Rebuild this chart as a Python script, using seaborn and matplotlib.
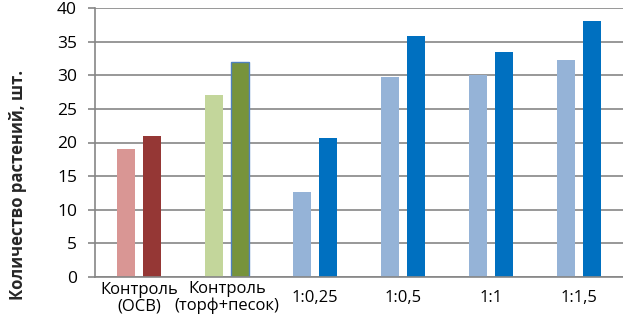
import pandas as pd
import seaborn as sns
import matplotlib.pyplot as plt

# Data
categories = ["Контроль\n(ОСВ)", "Контроль\n(торф+песок)", "1:0,25", "1:0,5", "1:1", "1:1,5"]
series_1 = [19, 27, 12.6, 29.7, 30, 32.3]
series_2 = [21, 32, 20.7, 35.8, 33.4, 38.1]

light_colors = ["#D99694", "#C3D69B", "#95B3D7", "#95B3D7", "#95B3D7", "#95B3D7"]
dark_colors = ["#953735", "#77933C", "#0070C0", "#0070C0", "#0070C0", "#0070C0"]

df = pd.DataFrame({
    "category": categories * 2,
    "value": series_1 + series_2,
    "series": ["1"] * len(categories) + ["2"] * len(categories),
})

sns.set_style("white")
plt.rcParams["font.family"] = ["Open Sans", "DejaVu Sans"]

fig = plt.figure(figsize=(6.23, 3.16), dpi=100)
ax = fig.add_axes([95 / 623, 39 / 316, 1 - 95 / 623, 269 / 316])

sns.barplot(data=df, x="category", y="value", hue="series", order=categories,
            width=0.58, gap=0.31, legend=False, ax=ax, linewidth=0)

# recolour each bar by its group
for bar, c in zip(ax.containers[0], light_colors):
    bar.set_facecolor(c)
for bar, c in zip(ax.containers[1], dark_colors):
    bar.set_facecolor(c)
ax.containers[1][1].set_edgecolor("#4F81BD")
ax.containers[1][1].set_linewidth(1.0)

ax.set_ylim(0, 40)
ax.set_xlim(-0.5, len(categories) - 0.5)
ax.set_yticks(range(0, 41, 5))
ax.yaxis.grid(True, color="#868686", linewidth=1.2)
ax.set_axisbelow(True)

for side in ["top", "right"]:
    ax.spines[side].set_visible(False)
ax.spines["left"].set_color("#868686")
ax.spines["bottom"].set_color("#868686")
ax.spines["left"].set_linewidth(1.2)
ax.spines["bottom"].set_linewidth(1.2)

ax.tick_params(axis="y", left=True, length=5, width=1.2, color="#868686",
               pad=8, labelsize=12.5, labelcolor="black")
ax.tick_params(axis="x", bottom=False, pad=11.5, labelsize=12, labelcolor="black")
for lbl in ax.get_xticklabels():
    lbl.set_verticalalignment("center")
    lbl.set_linespacing(1.05)

ax.set_xlabel("")
ax.set_ylabel("")
fig.text(18 / 623, 1 - 185 / 316, "Количество растений, шт.", rotation=90,
         ha="center", va="center", fontsize=12, fontweight="bold")

plt.savefig("out.png", dpi=100)
